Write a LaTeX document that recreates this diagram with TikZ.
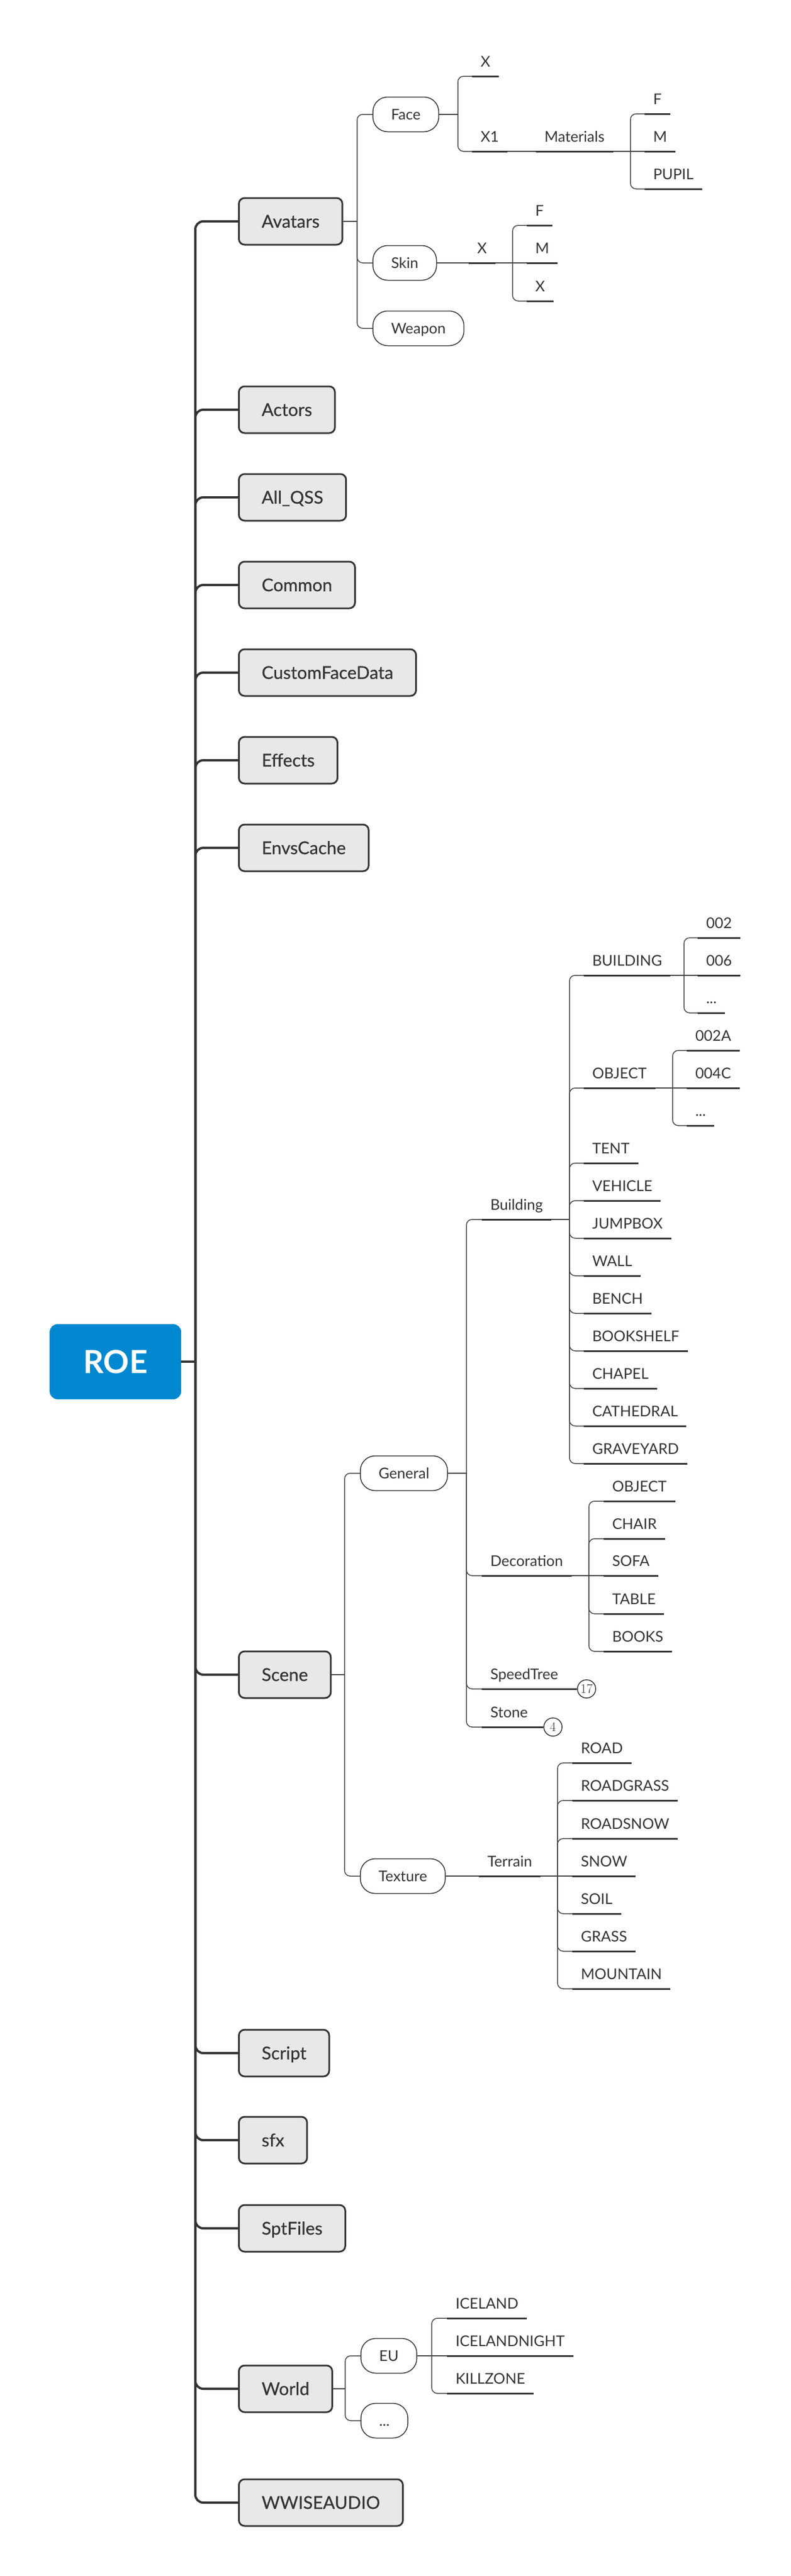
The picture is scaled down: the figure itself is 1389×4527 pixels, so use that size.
\documentclass[tikz,border=0pt]{standalone}
\usepackage{fontspec}
\setsansfont{Lato}
\newfontfamily\boxfont{Lato}[FakeBold=0.6]
\usetikzlibrary{calc,positioning}
\definecolor{ink}{HTML}{333333}
\definecolor{wirec}{HTML}{444444}
\definecolor{boxgray}{HTML}{E8E8E8}
\definecolor{roeblue}{HTML}{0288D1}
\tikzset{
    root/.style={fill=roeblue, rounded corners=14pt, minimum width=231pt, minimum height=132pt, inner sep=0pt, anchor=west, text=white, font=\sffamily\bfseries\fontsize{56}{60}\selectfont},
    topic/.style={draw=ink, line width=3pt, fill=boxgray, rounded corners=10pt, minimum height=82pt, inner xsep=40pt, anchor=west, text=ink, text height=23pt, text depth=1pt, font=\boxfont\fontsize{31}{36}\selectfont},
    subtopic/.style={draw=ink, line width=1.5pt, fill=white, rounded corners=26pt, minimum height=61pt, inner xsep=32pt, anchor=west, text=ink, text height=18pt, text depth=0pt, font=\sffamily\fontsize{26}{30}\selectfont},
    uline/.style={draw=ink, line width=3pt},
    leaf/.style={anchor=south west, inner xsep=15pt, inner ysep=17pt, outer sep=0pt, text depth=0pt, text=ink, font=\sffamily\fontsize{26}{30}\selectfont,
        append after command={(\tikzlastnode.south west) edge[uline] (\tikzlastnode.south east)}},
    count/.style={circle, draw=ink, line width=1.5pt, fill=white, minimum size=32pt, inner sep=0pt, text=ink, font=\rmfamily\fontsize{23}{23}\selectfont},
    trunk/.style={draw=ink, line width=4pt},
    wire/.style={draw=wirec, line width=1.5pt},
    elbow/.style={wire, rounded corners=10pt}
}
\begin{document}
\begin{tikzpicture}[x=1pt, y=-1pt]
    \useasboundingbox (0,0) rectangle (1389,4527);
    \node[root] (roe) at (87,2393) {ROE};
    \coordinate (tr) at (343,2393);
    \draw[trunk] (roe.east) -- (tr);
    \foreach \nm/\y/\txt in {avatars/389/Avatars, actors/720/Actors, allqss/874/All\_QSS, common/1028/Common,
        facedata/1182/CustomFaceData, effects/1336/Effects, envs/1490/EnvsCache, scene/2943/Scene,
        script/3608/Script, sfx/3761/sfx, spt/3916/SptFiles, world/4198/World, wwise/4398/WWISEAUDIO} {
        \node[topic] (\nm) at (418,\y) {\txt};
        \draw[trunk, rounded corners=14pt] (tr) |- (\nm.west);
    }

    % Avatars
    \coordinate (avb) at (627,389);
    \draw[wire] (avatars.east) -- (avb);
    \foreach \nm/\y/\txt in {face/201/Face, skin/462/Skin, weapon/577/Weapon} {
        \node[subtopic] (\nm) at (654,\y) {\txt};
        \draw[elbow] (avb) |- (\nm.west);
    }
    \coordinate (faceb) at (804,201);
    \draw[wire] (face.east) -- (faceb);
    \node[leaf] (fx) at (829,134) {X};
    \node[leaf] (fxone) at (829,266) {X1};
    \draw[elbow] (faceb) |- (fx.south west);
    \draw[elbow] (faceb) |- (fxone.south west);
    \node[leaf] (mat) at (941,266) {Materials};
    \draw[wire] (fxone.south east) -- (mat.south west);
    \coordinate (matb) at (1107,266);
    \draw[wire] (mat.south east) -- (matb);
    \node[leaf] (matf) at (1132,200) {F};
    \node[leaf] (matm) at (1132,266) {M};
    \node[leaf] (matp) at (1132,332) {PUPIL};
    \draw[elbow] (matb) |- (matf.south west);
    \draw[wire] (matb) -- (matm.south west);
    \draw[elbow] (matb) |- (matp.south west);

    \node[leaf] (skx) at (823,462) {X};
    \draw[wire] (skin.east) -- (skx.south west);
    \coordinate (skxb) at (900,462);
    \draw[wire] (skx.south east) -- (skxb);
    \node[leaf] (skf) at (925,396) {F};
    \node[leaf] (skm) at (925,462) {M};
    \node[leaf] (skxx) at (925,529) {X};
    \draw[elbow] (skxb) |- (skf.south west);
    \draw[wire] (skxb) -- (skm.south west);
    \draw[elbow] (skxb) |- (skxx.south west);

    % Scene
    \coordinate (scb) at (605,2943);
    \draw[wire] (scene.east) -- (scb);
    \foreach \nm/\y/\txt in {general/2589/General, texture/3297/Texture} {
        \node[subtopic] (\nm) at (632,\y) {\txt};
        \draw[elbow] (scb) |- (\nm.west);
    }
    \coordinate (genb) at (819,2589);
    \draw[wire] (general.east) -- (genb);
    \foreach \nm/\y/\txt in {bld/2143/Building, deco/2769/Decoration, speed/2968/SpeedTree, stone/3035/Stone} {
        \node[leaf] (\nm) at (846,\y) {\txt};
        \draw[elbow] (genb) |- (\nm.south west);
    }
    \node[count] (nspeed) at (1030,2968) {17};
    \node[count] (nstone) at (971,3035) {4};
    \draw[uline] (speed.south east) -- (nspeed.west);
    \draw[uline] (stone.south east) -- (nstone.west);

    \coordinate (bldb) at (1000,2143);
    \draw[wire] (bld.south east) -- (bldb);
    \foreach \nm/\y/\txt in {bbuild/1714/BUILDING, bobj/1912/OBJECT, btent/2044/TENT, bveh/2110/VEHICLE,
        bjump/2176/JUMPBOX, bwall/2242/WALL, bbench/2308/BENCH, bshelf/2374/BOOKSHELF,
        bchapel/2440/CHAPEL, bcath/2506/CATHEDRAL, bgrave/2572/GRAVEYARD} {
        \node[leaf] (\nm) at (1025,\y) {\txt};
        \draw[elbow] (bldb) |- (\nm.south west);
    }
    \coordinate (bbuildb) at (1201,1714);
    \draw[wire] (bbuild.south east) -- (bbuildb);
    \node[leaf] (bb002) at (1225,1648) {002};
    \node[leaf] (bb006) at (1225,1714) {006};
    \node[leaf] (bbdots) at (1225,1780) {...};
    \draw[elbow] (bbuildb) |- (bb002.south west);
    \draw[wire] (bbuildb) -- (bb006.south west);
    \draw[elbow] (bbuildb) |- (bbdots.south west);
    \coordinate (bobjb) at (1181,1912);
    \draw[wire] (bobj.south east) -- (bobjb);
    \node[leaf] (bo002a) at (1206,1846) {002A};
    \node[leaf] (bo004c) at (1206,1912) {004C};
    \node[leaf] (bodots) at (1206,1978) {...};
    \draw[elbow] (bobjb) |- (bo002a.south west);
    \draw[wire] (bobjb) -- (bo004c.south west);
    \draw[elbow] (bobjb) |- (bodots.south west);

    \coordinate (decob) at (1034,2769);
    \draw[wire] (deco.south east) -- (decob);
    \foreach \nm/\y/\txt in {dobj/2638/OBJECT, dchair/2704/CHAIR, dtable/2836/TABLE, dbooks/2902/BOOKS} {
        \node[leaf] (\nm) at (1060,\y) {\txt};
        \draw[elbow] (decob) |- (\nm.south west);
    }
    \node[leaf] (dsofa) at (1060,2769) {SOFA};
    \draw[wire] (decob) -- (dsofa.south west);

    \node[leaf] (terrain) at (841,3297) {Terrain};
    \draw[wire] (texture.east) -- (terrain.south west);
    \coordinate (terb) at (979,3297);
    \draw[wire] (terrain.south east) -- (terb);
    \foreach \nm/\y/\txt in {troad/3098/ROAD, trgrass/3164/ROADGRASS, trsnow/3231/ROADSNOW,
        tsoil/3363/SOIL, tgrass/3429/GRASS, tmount/3495/MOUNTAIN} {
        \node[leaf] (\nm) at (1005,\y) {\txt};
        \draw[elbow] (terb) |- (\nm.south west);
    }
    \node[leaf] (tsnow) at (1005,3297) {SNOW};
    \draw[wire] (terb) -- (tsnow.south west);

    % World
    \coordinate (wob) at (606,4198);
    \draw[wire] (world.east) -- (wob);
    \node[subtopic] (eu) at (633,4140) {EU};
    \node[subtopic] (wdots) at (633,4254) {...};
    \draw[elbow] (wob) |- (eu.west);
    \draw[elbow] (wob) |- (wdots.west);
    \coordinate (eub) at (758,4140);
    \draw[wire] (eu.east) -- (eub);
    \node[leaf] (ice) at (785,4074) {ICELAND};
    \node[leaf] (icen) at (785,4140) {ICELANDNIGHT};
    \node[leaf] (kill) at (785,4206) {KILLZONE};
    \draw[elbow] (eub) |- (ice.south west);
    \draw[wire] (eub) -- (icen.south west);
    \draw[elbow] (eub) |- (kill.south west);
\end{tikzpicture}
\end{document}
